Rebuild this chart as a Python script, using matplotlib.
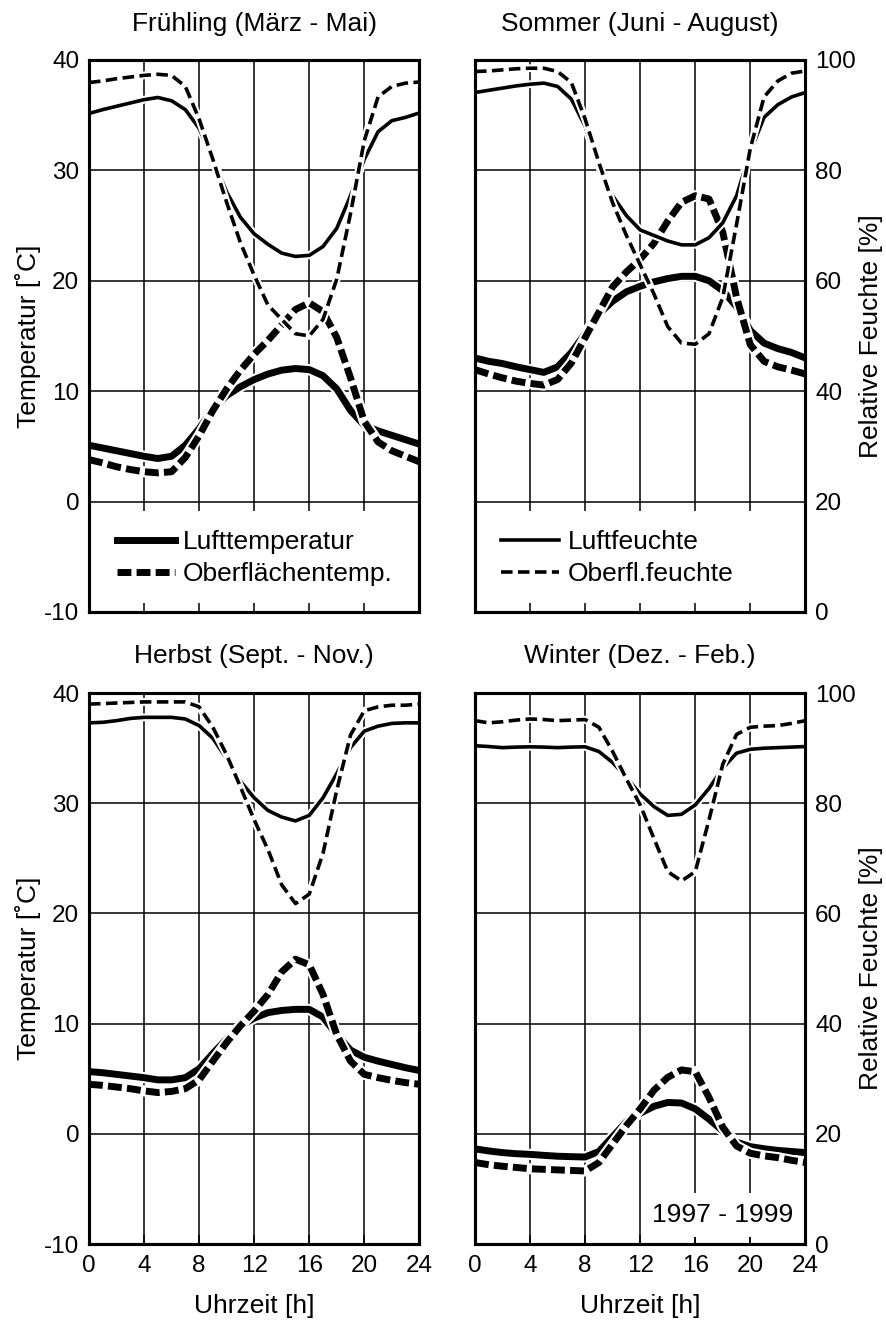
import matplotlib.pyplot as plt
import numpy as np

plt.rcParams["font.family"] = ["Liberation Sans", "DejaVu Sans"]
plt.rcParams["axes.unicode_minus"] = False

hours = np.arange(25)

# Frühling (März - Mai)
fr_luft_t = [5.1, 4.85, 4.6, 4.35, 4.1, 3.9, 4.1, 5.1, 6.6, 8.4, 9.6, 10.4, 11.05,
             11.55, 11.9, 12.05, 11.95, 11.4, 10.2, 8.25, 6.9, 6.4, 6.0, 5.6, 5.2]
fr_ober_t = [3.8, 3.5, 3.15, 2.9, 2.7, 2.6, 2.7, 4.0, 5.95, 8.25, 10.2, 11.9, 13.35,
             14.6, 16.0, 17.4, 18.0, 17.2, 14.85, 11.2, 7.25, 5.4, 4.6, 4.1, 3.6]
fr_luft_f = [90.3, 91.0, 91.6, 92.2, 92.8, 93.2, 92.6, 91.0, 87.6, 82.0, 76.1, 71.5, 68.5,
             66.6, 65.0, 64.4, 64.6, 66.2, 69.5, 75.4, 82.0, 87.0, 89.0, 89.6, 90.4]
fr_ober_f = [95.9, 96.2, 96.6, 96.9, 97.2, 97.4, 97.2, 95.2, 89.3, 82.0, 74.2, 66.9, 61.0,
             55.6, 53.0, 50.4, 50.0, 53.0, 60.3, 72.2, 85.4, 93.3, 95.2, 95.8, 96.0]

# Sommer (Juni - August)
so_luft_t = [13.0, 12.7, 12.5, 12.2, 11.95, 11.7, 12.2, 13.5, 15.2, 17.0, 18.15, 19.0, 19.5,
             19.9, 20.2, 20.4, 20.4, 20.0, 19.1, 17.65, 15.5, 14.35, 13.85, 13.5, 13.0]
so_ober_t = [11.95, 11.55, 11.2, 10.9, 10.7, 10.55, 11.05, 12.55, 14.85, 17.15, 19.45, 20.8, 21.95,
             23.4, 25.4, 27.1, 27.7, 27.4, 24.4, 18.5, 14.2, 12.7, 12.2, 11.9, 11.55]
so_luft_f = [94.1, 94.5, 94.9, 95.3, 95.6, 95.8, 95.2, 92.9, 88.0, 80.7, 75.4, 71.8, 69.2,
             68.2, 67.2, 66.5, 66.5, 67.8, 70.5, 75.4, 83.4, 89.6, 91.9, 93.3, 94.1]
so_ober_f = [97.9, 98.0, 98.2, 98.4, 98.5, 98.5, 97.9, 95.9, 89.3, 81.4, 74.1, 68.2, 62.9,
             57.6, 51.7, 48.7, 48.5, 50.4, 57.0, 70.2, 84.0, 93.3, 96.2, 97.6, 98.0]

# Herbst (Sept. - Nov.)
he_luft_t = [5.65, 5.55, 5.4, 5.25, 5.1, 4.9, 4.9, 5.1, 5.9, 7.3, 8.6, 9.8, 10.5,
             11.0, 11.2, 11.3, 11.3, 10.6, 9.0, 7.6, 6.95, 6.6, 6.3, 6.0, 5.75]
he_ober_t = [4.5, 4.4, 4.25, 4.1, 3.9, 3.75, 3.85, 4.1, 4.9, 6.6, 8.3, 9.8, 11.15,
             12.65, 14.7, 15.85, 15.35, 12.65, 9.0, 6.6, 5.4, 5.1, 4.85, 4.65, 4.5]
he_luft_f = [94.6, 94.7, 95.0, 95.4, 95.6, 95.6, 95.6, 95.3, 94.1, 91.8, 88.1, 84.0, 81.0,
             78.7, 77.5, 76.8, 77.8, 81.0, 85.4, 90.1, 93.1, 94.0, 94.5, 94.6, 94.6]
he_ober_f = [98.0, 98.1, 98.2, 98.3, 98.4, 98.4, 98.4, 98.4, 97.5, 93.8, 88.8, 83.0, 77.0,
             71.6, 65.2, 61.8, 63.5, 70.9, 82.4, 92.4, 96.8, 97.5, 97.8, 97.8, 98.0]

# Winter (Dez. - Feb.)
wi_luft_t = [-1.36, -1.55, -1.7, -1.8, -1.86, -1.95, -2.03, -2.07, -2.1, -1.6, -0.25, 1.1, 1.87,
             2.5, 2.85, 2.8, 2.27, 1.33, 0.26, -0.75, -1.16, -1.35, -1.5, -1.6, -1.7]
wi_ober_t = [-2.6, -2.8, -2.94, -3.05, -3.17, -3.22, -3.27, -3.32, -3.37, -2.6, -0.92, 0.76, 2.27,
             3.96, 5.13, 5.8, 5.64, 3.3, 0.6, -1.1, -1.76, -2.0, -2.16, -2.4, -2.6]
wi_luft_f = [90.45, 90.3, 90.1, 90.2, 90.25, 90.2, 90.1, 90.2, 90.25, 89.4, 87.4, 84.7, 81.7,
             79.4, 77.8, 78.0, 79.7, 82.7, 86.4, 89.1, 89.8, 90.0, 90.1, 90.2, 90.3]
wi_ober_f = [95.0, 94.6, 94.8, 95.1, 95.3, 95.2, 95.0, 95.1, 95.2, 93.8, 89.4, 84.4, 79.7,
             73.6, 67.6, 65.9, 67.6, 77.0, 87.1, 92.5, 93.8, 94.0, 94.1, 94.5, 95.0]

titles = ["Frühling (März - Mai)", "Sommer (Juni - August)",
          "Herbst (Sept. - Nov.)", "Winter (Dez. - Feb.)"]
x_ticks = [0, 4, 8, 12, 16, 20, 24]
t_ticks = [-10, 0, 10, 20, 30, 40]
f_ticks = [0, 20, 40, 60, 80, 100]

FS = 19
TICK_FS = 17.5
LW_T = 5.0
LW_F = 2.6
DASH_T = (2.0, 0.75)
DASH_F = (3.2, 1.5)


def draw(ax, x, y, lw, dashes=None, label=None):
    ax.plot(x, y, color="white", lw=lw + 3.0, solid_capstyle="butt")
    if dashes is None:
        return ax.plot(x, y, color="black", lw=lw, label=label,
                       solid_joinstyle="round")[0]
    return ax.plot(x, y, color="black", lw=lw, dashes=dashes, label=label,
                   dash_capstyle="butt")[0]


def panel(rect, title, luft_t, ober_t, luft_f, ober_f, left, top):
    ax = fig.add_axes(rect)
    ax.set_xlim(0, 24)
    ax.set_ylim(-10, 40)
    ax.set_xticks(x_ticks)
    ax.set_yticks(t_ticks)
    for s in ax.spines.values():
        s.set_linewidth(2.2)

    # grid
    ax.hlines([0, 10, 20, 30], 0, 24, color="black", lw=1.1, zorder=1)
    ax.vlines([4, 8, 12, 16, 20], -0.9 if top else -10, 40,
              color="black", lw=1.1, zorder=1)

    ax.tick_params(axis="x", direction="in", length=6.5, width=1.1,
                   labelsize=TICK_FS, pad=8, labelbottom=not top)
    ax.tick_params(axis="y", length=0, labelsize=TICK_FS, pad=7,
                   labelleft=left)

    h1 = draw(ax, hours, luft_t, LW_T, label="Lufttemperatur")
    h2 = draw(ax, hours, ober_t, LW_T, DASH_T, label="Oberflächentemp.")

    ax2 = ax.twinx()
    ax2.set_ylim(0, 100)
    ax2.set_yticks(f_ticks)
    ax2.tick_params(axis="y", length=0, labelsize=TICK_FS, pad=7,
                    labelright=not left)
    for s in ax2.spines.values():
        s.set_linewidth(2.2)
    g1 = draw(ax2, hours, luft_f, LW_F, label="Luftfeuchte")
    g2 = draw(ax2, hours, ober_f, LW_F, DASH_F, label="Oberfl.feuchte")

    ax.set_title(title, fontsize=FS, pad=21 if top else 22)
    if left:
        ax.set_ylabel("Temperatur [˚C]", fontsize=FS, labelpad=2)
    else:
        ax2.set_ylabel("Relative Feuchte [%]", fontsize=FS, labelpad=2)
    if not top:
        ax.set_xlabel("Uhrzeit [h]", fontsize=FS, labelpad=12)
    return ax, ax2, (h1, h2), (g1, g2)


fig = plt.figure(figsize=(8.87, 13.26), dpi=100)

W = 0.3725
axL, axL2, th, _ = panel([0.1003, 0.5385, W, 0.4163], titles[0],
                         fr_luft_t, fr_ober_t, fr_luft_f, fr_ober_f, True, True)
axR, axR2, _, fh = panel([0.5355, 0.5385, W, 0.4163], titles[1],
                         so_luft_t, so_ober_t, so_luft_f, so_ober_f, False, True)
panel([0.1003, 0.0618, W, 0.4155], titles[2],
      he_luft_t, he_ober_t, he_luft_f, he_ober_f, True, False)
axW, axW2, _, _ = panel([0.5355, 0.0618, W, 0.4155], titles[3],
                        wi_luft_t, wi_ober_t, wi_luft_f, wi_ober_f, False, False)

leg_kw = dict(loc="center left", frameon=False, fontsize=FS, borderpad=0,
              borderaxespad=0, handlelength=2.2, handletextpad=0.3,
              labelspacing=0.3)
legend1 = axL2.legend(th, [h.get_label() for h in th],
                      bbox_to_anchor=(0.085, 0.098), **leg_kw)
legend2 = axR2.legend(fh, [h.get_label() for h in fh],
                      bbox_to_anchor=(0.08, 0.098), **leg_kw)

axW2.text(23.15, 5.3, "1997 - 1999", fontsize=FS, ha="right", va="center",
          zorder=2.4, bbox=dict(facecolor="white", edgecolor="none", pad=7))

fig.savefig("out.png", dpi=100)
